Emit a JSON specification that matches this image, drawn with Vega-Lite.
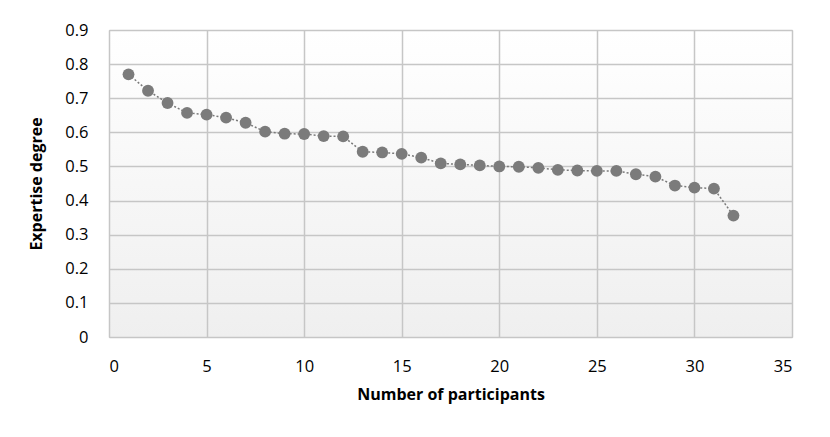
{
  "$schema": "https://vega.github.io/schema/vega-lite/v6.json",
  "width": 683,
  "height": 307,
  "autosize": "none",
  "padding": {"left": 109, "top": 30, "right": 38, "bottom": 100},
  "background": "white",
  "config": {
    "view": {"stroke": "#c0c0c0", "strokeWidth": 1,
      "fill": {"gradient": "linear", "x1": 0, "y1": 0, "x2": 0, "y2": 1,
        "stops": [{"offset": 0, "color": "#ffffff"}, {"offset": 1, "color": "#efefef"}]}},
    "axis": {"labelFont": "Open Sans", "titleFont": "Open Sans", "labelColor": "#000000", "titleColor": "#000000",
      "gridColor": "#c6c6c6", "gridWidth": 1.5, "domain": false, "ticks": false, "labelFontSize": 16.5}
  },
  "data": {"values": [
    {"n": 1, "e": 0.77}, {"n": 2, "e": 0.722}, {"n": 3, "e": 0.686}, {"n": 4, "e": 0.657},
    {"n": 5, "e": 0.652}, {"n": 6, "e": 0.643}, {"n": 7, "e": 0.628}, {"n": 8, "e": 0.602},
    {"n": 9, "e": 0.596}, {"n": 10, "e": 0.595}, {"n": 11, "e": 0.589}, {"n": 12, "e": 0.588},
    {"n": 13, "e": 0.543}, {"n": 14, "e": 0.541}, {"n": 15, "e": 0.537}, {"n": 16, "e": 0.526},
    {"n": 17, "e": 0.509}, {"n": 18, "e": 0.506}, {"n": 19, "e": 0.503}, {"n": 20, "e": 0.5},
    {"n": 21, "e": 0.499}, {"n": 22, "e": 0.496}, {"n": 23, "e": 0.49}, {"n": 24, "e": 0.488},
    {"n": 25, "e": 0.487}, {"n": 26, "e": 0.487}, {"n": 27, "e": 0.477}, {"n": 28, "e": 0.47},
    {"n": 29, "e": 0.444}, {"n": 30, "e": 0.438}, {"n": 31, "e": 0.435}, {"n": 32, "e": 0.356}
  ]},
  "encoding": {
    "x": {"field": "n", "type": "quantitative", "title": "Number of participants",
      "scale": {"domain": [0, 35], "nice": false},
      "axis": {"values": [0, 5, 10, 15, 20, 25, 30, 35], "labelPadding": 21, "titlePadding": 12,
        "titleFontSize": 16, "titleFontWeight": "bold"}},
    "y": {"field": "e", "type": "quantitative", "title": "Expertise degree",
      "scale": {"domain": [0, 0.9], "nice": false},
      "axis": {"values": [0, 0.1, 0.2, 0.3, 0.4, 0.5, 0.6, 0.7, 0.8, 0.9], "labelPadding": 21, "titlePadding": 20,
        "titleFontSize": 16, "titleFontWeight": "bold", "labelExpr": "datum.value === 0 ? '0' : format(datum.value, '.1f')"}}
  },
  "layer": [
    {"mark": {"type": "line", "color": "#7a7a7a", "strokeDash": [2, 2], "strokeWidth": 1.5}},
    {"mark": {"type": "point", "filled": true, "color": "#7b7b7b", "opacity": 1, "size": 140}}
  ]
}
